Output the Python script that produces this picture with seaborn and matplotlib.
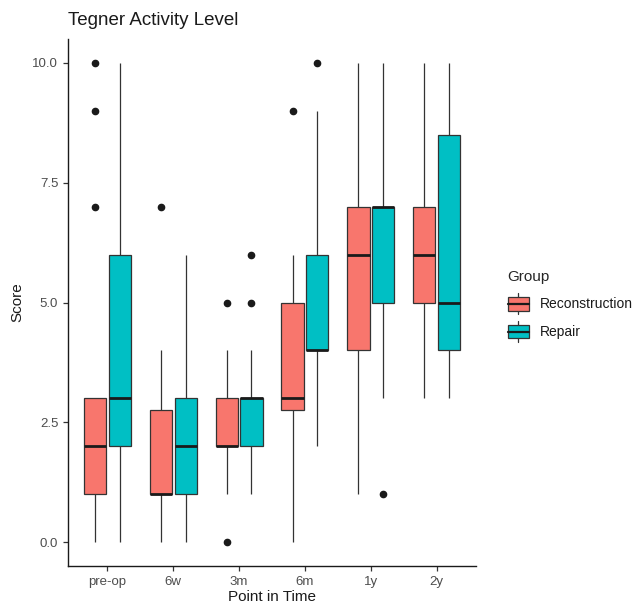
import pandas as pd
import numpy as np
import matplotlib
matplotlib.use("Agg")
import matplotlib.pyplot as plt
import seaborn as sns
from matplotlib.patches import Patch, Rectangle
from matplotlib.lines import Line2D
from matplotlib.legend_handler import HandlerBase

# time points and groups
time_points = ['pre-op', '6w', '3m', '6m', '1y', '2y']
groups = ['Reconstruction', 'Repair']
group_colors = ['#F8766D', '#00BFC4']

# scores per time point
recon_preop = [0, 0, 1, 1, 1, 2, 2, 2, 3, 3, 7, 9, 10]
recon_6w = [0, 0, 1, 1, 1, 1, 2, 3, 4, 7]
recon_3m = [0, 1, 2, 2, 2, 3, 3, 4, 5]
recon_6m = [0, 1, 2, 3, 3, 3, 3, 4, 5, 5, 6, 9]
recon_1y = [1, 3, 4, 5, 6, 7, 7, 8, 10]
recon_2y = [3, 4, 5, 6, 6, 7, 7, 9, 10]

repair_preop = [0, 1, 2, 2, 3, 5, 6, 8, 10]
repair_6w = [0, 1, 1, 2, 2, 2, 3, 4, 6]
repair_3m = [1, 2, 2, 2, 3, 3, 3, 3, 3, 3, 4, 5, 6]
repair_6m = [2, 3, 4, 4, 4, 5, 6, 9, 10]
repair_1y = [1, 3, 5, 6, 7, 7, 7, 9, 10]
repair_2y = [3, 3, 4, 4, 5, 5, 6, 8, 9, 10, 10]

recon = [recon_preop, recon_6w, recon_3m, recon_6m, recon_1y, recon_2y]
repair = [repair_preop, repair_6w, repair_3m, repair_6m, repair_1y, repair_2y]

rows = []
for grp, series in zip(groups, [recon, repair]):
    for tp, vals in zip(time_points, series):
        for v in vals:
            rows.append({'Point in Time': tp, 'Score': v, 'Group': grp})
df = pd.DataFrame(rows)

sns.set_style('white')
plt.rcParams['font.family'] = ['Liberation Sans', 'DejaVu Sans']

fig = plt.figure(figsize=(6.39, 6.05), dpi=100)
ax = fig.add_axes([0.1064, 0.0645, 0.6386, 0.871])

line_col = '#333333'
sns.boxplot(data=df, x='Point in Time', y='Score', hue='Group',
            order=time_points, hue_order=groups, palette=group_colors,
            width=0.75, gap=0.1, linecolor=line_col, linewidth=0.9,
            showcaps=False, saturation=1, ax=ax, legend=False,
            medianprops={'linewidth': 2.0, 'color': '#1a1a1a'},
            flierprops={'marker': 'o', 'markersize': 4.5,
                        'markerfacecolor': '#1a1a1a', 'markeredgecolor': '#1a1a1a'})

ax.set_ylim(-0.5, 10.5)
ax.set_xlim(-0.6, 5.6)
ax.set_yticks([0, 2.5, 5, 7.5, 10])
ax.set_yticklabels(['0.0', '2.5', '5.0', '7.5', '10.0'])
ax.tick_params(axis='both', colors='#333333', labelcolor='#4D4D4D',
               labelsize=9.5, length=3.5, width=0.9, direction='out',
               bottom=True, left=True)
for side in ['top', 'right']:
    ax.spines[side].set_visible(False)
for side in ['left', 'bottom']:
    ax.spines[side].set_color('#1a1a1a')
    ax.spines[side].set_linewidth(1.0)
ax.set_xlabel('Point in Time', fontsize=11, color='#1a1a1a', labelpad=2)
ax.set_ylabel('Score', fontsize=11, color='#1a1a1a', labelpad=6)
ax.set_title('Tegner Activity Level', loc='left', fontsize=13.5,
             color='#1a1a1a', pad=10)


class BoxKey(HandlerBase):
    def create_artists(self, legend, orig_handle, xdescent, ydescent,
                       width, height, fontsize, trans):
        x0, y0 = -xdescent, -ydescent
        cx = x0 + width / 2
        whisk = Line2D([cx, cx], [y0 - 0.25 * height, y0 + 1.25 * height],
                       color=line_col, lw=0.9, transform=trans)
        box = Rectangle((x0, y0), width, height,
                        facecolor=orig_handle.get_facecolor(),
                        edgecolor=line_col, lw=0.9, transform=trans)
        med = Line2D([x0, x0 + width], [y0 + height / 2] * 2,
                     color='#1a1a1a', lw=1.6, transform=trans)
        return [whisk, box, med]


handles = [Patch(facecolor=c) for c in group_colors]
fig.legend(handles, groups, title='Group', loc='upper left',
           bbox_to_anchor=(0.775, 0.575), frameon=False,
           handler_map={Patch: BoxKey()}, fontsize=10, title_fontsize=11,
           handlelength=1.5, handleheight=1.15, labelspacing=0.95,
           handletextpad=0.8, alignment='left', labelcolor='#1a1a1a')

fig.savefig('out.png', dpi=100)
